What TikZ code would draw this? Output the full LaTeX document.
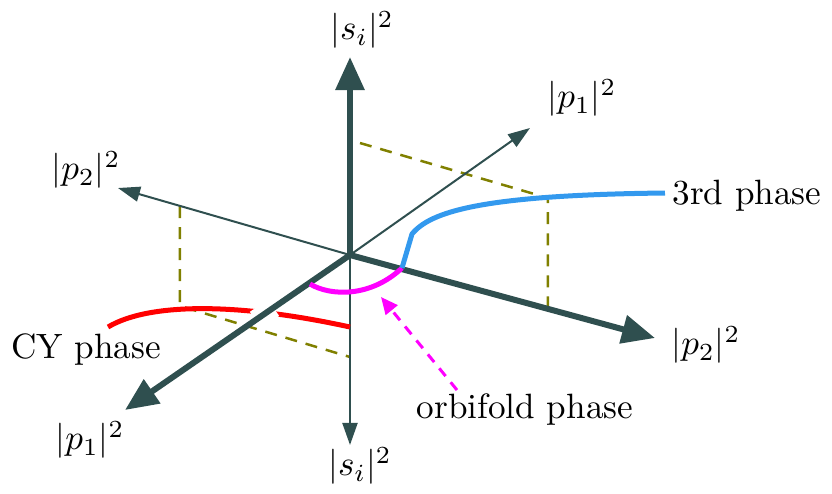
\documentclass[tikz,border=0pt]{standalone}
\usetikzlibrary{arrows.meta,calc}
\definecolor{axc}{RGB}{47,79,79}
\definecolor{olv}{RGB}{128,128,0}
\definecolor{bl}{RGB}{51,153,238}
\definecolor{mag}{RGB}{255,0,255}
\begin{document}
\begin{tikzpicture}[x=0.01cm,y=-0.01cm,
  thickax/.style={draw=axc,line width=0.06cm,-{Triangle[length=0.33cm,width=0.28cm]}},
  thinax/.style={draw=axc,line width=0.02cm,-{Triangle[length=0.22cm,width=0.15cm]}},
  guide/.style={draw=olv,line width=0.025cm,dash pattern=on 0.12cm off 0.09cm},
  phase/.style={line width=0.05cm},
  lbl/.style={inner sep=0pt}]
\useasboundingbox (0,0) rectangle (832,493);
\coordinate (O) at (350,255);
\coordinate (up) at (350,57);
\coordinate (down) at (350,445);
\coordinate (p1f) at (125,410);
\coordinate (p1b) at (530,128);
\coordinate (p2f) at (655,338);
\coordinate (p2b) at (118,188);
% guide parallelograms
\coordinate (g1) at (180,206);
\coordinate (g2) at (180,306);
\coordinate (g3) at (350,357);
\coordinate (g4) at (360,143);
\coordinate (g5) at (548,198);
\coordinate (g6) at (548,310);
\draw[guide] (g1) -- (g2) -- (g3);
\draw[guide] (g4) -- (g5) -- (g6);
% thin axes
\draw[thinax] (O) -- (down);
\draw[thinax] (O) -- (p1b);
\draw[thinax] (O) -- (p2b);
% red CY curve
\coordinate (r0) at (108,327);
\coordinate (r1) at (350,327);
\draw[red,phase] (r0) .. controls (150,302) and (240,303) .. (r1);
% white gap where thick axis crosses red curve
\draw[white,line width=0.2cm] ($(O)!0.34!(p1f)$) -- ($(O)!0.42!(p1f)$);
% thick axes
\draw[thickax] (O) -- (up);
\draw[thickax] (O) -- (p1f);
\draw[thickax] (O) -- (p2f);
% magenta orbifold curve
\coordinate (m0) at (310,284);
\coordinate (m1) at (402,268);
\draw[mag,phase] (m0) .. controls (330,296) and (370,298) .. (m1);
% blue 3rd phase
\coordinate (b1) at (412,234);
\coordinate (b2) at (665,193);
\draw[bl,phase,line join=round] (m1) -- (b1) .. controls (430,212) and (480,195) .. (b2);
% labels
\node[lbl] (ltop) at (362,30) {$|s_i|^2$};
\node[lbl] (lbot) at (360,466) {$|s_i|^2$};
\node[lbl] (lp1b) at (582,98) {$|p_1|^2$};
\node[lbl] (lp1f) at (90,440) {$|p_1|^2$};
\node[lbl] (lp2b) at (86,170) {$|p_2|^2$};
\node[lbl] (lp2f) at (706,345) {$|p_2|^2$};
\node[lbl] (l3) at (747,196) {3rd phase};
\node[lbl] (lcy) at (86,350) {CY phase};
\node[lbl] (lorb) at (525,410) {orbifold phase};
\coordinate (mt) at (381,297);
\coordinate (ms) at (457,390);
\draw[mag,line width=0.03cm,dash pattern=on 0.1cm off 0.08cm,-{Triangle[length=0.17cm,width=0.15cm]}] (ms) -- (mt);
\end{tikzpicture}
\end{document}
